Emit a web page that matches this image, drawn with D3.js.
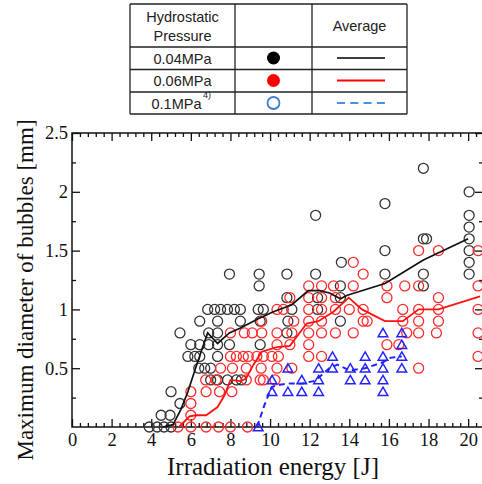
<!DOCTYPE html>
<html>
<head>
<meta charset="utf-8">
<script src="https://cdn.jsdelivr.net/npm/d3@7"></script>
<style>
  body { margin: 0; background: #fff; }
  svg { display: block; }
  .tick text { font-family: "Liberation Serif", serif; font-size: 18.5px; fill: #111; }
  .axis path.domain { display: none; }
  .axis line { stroke: #111; stroke-width: 1.3; }
  .legend text { font-family: "Liberation Sans", Arial, sans-serif; font-size: 14.5px; fill: #222; }
</style>
</head>
<body>
<svg width="482" height="484"></svg>
<script>
// values: [energy J, max diameter mm]
const pts004 = [
  [3.9,0],[4.3,0],[4.65,0],[5.0,0],[4.5,0.1],[4.95,0.1],[5.0,0.3],[5.45,0.2],[5.45,0.8],
  [5.85,0.6],[6.0,0.7],[6.2,0.6],[6.45,0.9],[6.45,0.7],[6.45,0.6],[6.4,0.5],[6.7,0.5],
  [6.85,1.0],[6.9,0.8],[6.9,0.7],[7.0,0.5],[7.0,0.4],[7.2,1.0],[7.35,0.9],[7.35,0.8],
  [7.35,0.7],[7.35,0.6],[7.35,0.4],[7.5,1.0],[7.85,1.0],[7.85,0.4],[7.95,1.3],[7.95,0.7],
  [8.2,1.0],[8.3,0.4],[8.5,1.0],[8.5,0.9],[8.55,0.4],
  [9.45,1.3],[9.45,1.2],[9.4,1.0],[9.66,1.0],[9.5,0.9],[9.5,0.7],
  [10.85,1.3],[10.85,1.1],[10.9,0.9],[10.85,0.8],[11.1,1.0],
  [12.3,1.8],[12.3,1.3],[12.4,1.0],[12.4,1.1],
  [13.6,1.4],[13.55,1.2],[13.55,1.1],[13.55,0.9],
  [15.8,1.9],[15.8,1.5],[15.8,1.3],
  [17.74,2.2],[17.74,1.6],[17.9,1.6],[17.74,1.3],[17.74,1.2],
  [20.05,2.0],[20.05,1.8],[20.05,1.7],[20.05,1.6],[20.05,1.5],[20.05,1.4],[20.05,1.3]
];
const pts006 = [
  [5.35,0],[6.0,0],[6.77,0],[7.4,0],[8.0,0],[8.86,0],
  [6.0,0.1],[6.0,0.2],[6.0,0.3],[6.77,0.3],[7.45,0.3],[8.07,0.3],[6.75,0.4],[7.27,0.4],
  [7.5,0.5],[8.1,0.5],[8.8,0.5],[9.55,0.5],[10.35,0.5],[11.1,0.5],
  [8.8,0.4],[9.5,0.4],[9.66,0.4],[10.25,0.4],
  [8.0,0.6],[8.3,0.6],[8.65,0.6],[8.9,0.6],[9.33,0.6],[9.66,0.6],[10.09,0.6],[10.42,0.6],
  [11.95,0.6],[12.6,0.6],
  [10.35,0.7],[11.0,0.7],[11.95,0.7],[15.9,0.7],[16.5,0.7],
  [8.0,0.8],[8.7,0.8],[9.1,0.8],[9.58,0.8],[10.35,0.8],[11.1,0.8],[11.95,0.8],[12.6,0.8],
  [13.3,0.8],[14.2,0.8],[16.9,0.8],[17.5,0.8],[18.4,0.8],
  [9.58,0.9],[11.2,0.9],[11.95,0.9],[12.6,0.9],[14.7,0.9],[14.9,0.9],[16.7,0.9],[17.5,0.9],[18.5,0.9],
  [10.35,1.0],[10.67,1.0],[11.95,1.0],[12.6,1.0],[13.3,1.0],[14.0,1.0],[14.7,1.0],
  [16.7,1.0],[17.5,1.0],[18.5,1.0],
  [11.0,1.1],[11.95,1.1],[12.6,1.1],[13.3,1.1],[15.9,1.1],[18.5,1.1],
  [11.95,1.2],[12.6,1.2],[13.2,1.2],[14.2,1.2],[15.9,1.2],[16.8,1.2],[17.5,1.2],
  [14.7,1.3],[14.2,1.4],[17.5,1.5],[18.5,1.5],[17.5,0.5],
  [20.5,1.5],[20.5,1.2],[20.5,1.0],[20.5,0.8],[20.5,0.6]
];
const pts01 = [
  [9.4,0],[10.1,0.4],[10.1,0.3],[10.9,0.5],[10.9,0.3],[11.6,0.4],[11.6,0.3],
  [12.45,0.5],[12.45,0.4],[12.45,0.3],[13.15,0.6],[13.15,0.5],[14.05,0.5],[14.05,0.4],
  [14.8,0.6],[14.8,0.5],[14.8,0.4],[15.7,0.8],[15.7,0.6],[15.7,0.5],[15.7,0.4],[15.7,0.3],
  [16.65,0.8],[16.65,0.7],[16.65,0.6],[16.65,0.5]
];
const avg004 = [
  [4.6,0],[5.1,0.02],[5.5,0.15],[5.85,0.3],[6.2,0.48],[6.6,0.68],[6.85,0.8],[7.35,0.71],
  [7.94,0.8],[8.48,0.84],[9.4,0.92],[10.17,0.98],[11.1,1.04],[11.93,1.16],[12.5,1.16],
  [13.0,1.14],[13.55,1.09],[13.9,1.12],[15.8,1.22],[17.74,1.42],[20,1.6]
];
const avg006 = [
  [5.4,0],[5.93,0.09],[6.27,0.1],[6.77,0.1],[7.35,0.17],[7.7,0.27],[8.0,0.4],[8.5,0.39],
  [8.78,0.41],[9.16,0.53],[9.58,0.64],[10.34,0.68],[11.0,0.69],[11.85,0.88],[12.44,0.9],
  [13.2,0.98],[13.97,1.1],[14.64,1.0],[15.8,0.9],[16.7,0.9],[17.5,1.0],[18.5,1.0],[20.6,1.11]
];
const avg01 = [
  [9.35,0],[9.7,0.18],[10.08,0.34],[10.5,0.36],[11.0,0.37],[11.6,0.37],[12.2,0.39],
  [12.45,0.42],[13.0,0.5],[13.4,0.53],[14.04,0.48],[14.8,0.5],[15.7,0.55],[16.1,0.59],[16.65,0.6]
];
const xTicks = [0, 2, 4, 6, 8, 10, 12, 14, 16, 18, 20];
const yTicks = [0.5, 1, 1.5, 2, 2.5];
const pressures = ['0.04MPa', '0.06MPa', '0.1MPa'];

const svg = d3.select('svg');

const x = d3.scaleLinear().domain([0, 20.75]).range([72, 483]);
const y = d3.scaleLinear().domain([0, 2.5]).range([427, 133]);
const xMinor = d3.range(0, 20.8, 0.4).filter(v => Math.abs(v / 2 - Math.round(v / 2)) > 0.01);
const yMinor = d3.range(0.25, 2.5, 0.5);

// frame
svg.append('rect')
  .attr('x', x(0)).attr('y', y(2.5))
  .attr('width', x(20.75) - x(0)).attr('height', y(0) - y(2.5))
  .attr('fill', 'none').attr('stroke', '#111').attr('stroke-width', 1.5);

// axes, ticks pointing inward
svg.append('g').attr('class', 'axis')
  .attr('transform', `translate(0,${y(0)})`)
  .call(d3.axisBottom(x).tickValues(xTicks).tickSize(-8).tickPadding(6));
svg.append('g').attr('class', 'axis')
  .attr('transform', `translate(0,${y(0)})`)
  .call(d3.axisBottom(x).tickValues(xMinor).tickSize(-4).tickFormat(''));
svg.append('g').attr('class', 'axis')
  .attr('transform', `translate(0,${y(2.5)})`)
  .call(d3.axisTop(x).tickValues(xTicks).tickSize(-8).tickFormat(''));
svg.append('g').attr('class', 'axis')
  .attr('transform', `translate(0,${y(2.5)})`)
  .call(d3.axisTop(x).tickValues(xMinor).tickSize(-4).tickFormat(''));

svg.append('g').attr('class', 'axis')
  .attr('transform', `translate(${x(0)},0)`)
  .call(d3.axisLeft(y).tickValues(yTicks).tickSize(-8).tickPadding(4).tickFormat(d3.format('')));
svg.append('g').attr('class', 'axis')
  .attr('transform', `translate(${x(0)},0)`)
  .call(d3.axisLeft(y).tickValues(yMinor).tickSize(-4).tickFormat(''));
svg.append('g').attr('class', 'axis')
  .attr('transform', `translate(${x(20.75)},0)`)
  .call(d3.axisRight(y).tickValues(yTicks).tickSize(-8).tickFormat(''));
svg.append('g').attr('class', 'axis')
  .attr('transform', `translate(${x(20.75)},0)`)
  .call(d3.axisRight(y).tickValues(yMinor).tickSize(-4).tickFormat(''));

// axis titles
svg.append('text')
  .attr('x', 273).attr('y', 475)
  .attr('text-anchor', 'middle')
  .style('font-family', '"Liberation Serif", serif').style('font-size', '25px').style('fill', '#111')
  .text('Irradiation energy [J]');
svg.append('text')
  .attr('transform', 'translate(33,290) rotate(-90)')
  .attr('text-anchor', 'middle')
  .style('font-family', '"Liberation Serif", serif').style('font-size', '23px').style('fill', '#111')
  .text('Maximum diameter of bubbles [mm]');

// scatter
const plot = svg.append('g');
plot.selectAll('circle.b').data(pts004).enter().append('circle')
  .attr('class', 'b')
  .attr('cx', d => x(d[0])).attr('cy', d => y(d[1])).attr('r', 5)
  .attr('fill', 'none').attr('stroke', '#333').attr('stroke-width', 1.3);
plot.selectAll('circle.r').data(pts006).enter().append('circle')
  .attr('class', 'r')
  .attr('cx', d => x(d[0])).attr('cy', d => y(d[1])).attr('r', 5)
  .attr('fill', 'none').attr('stroke', '#ff2a2a').attr('stroke-width', 1.3);
const tri = d3.symbol().type(d3.symbolTriangle).size(40);
plot.selectAll('path.t').data(pts01).enter().append('path')
  .attr('class', 't')
  .attr('d', tri)
  .attr('transform', d => `translate(${x(d[0])},${y(d[1]) + 1})`)
  .attr('fill', 'none').attr('stroke', '#2222ff').attr('stroke-width', 1.5);

// averages
const line = d3.line().x(d => x(d[0])).y(d => y(d[1]));
plot.append('path').datum(avg004).attr('d', line)
  .attr('fill', 'none').attr('stroke', '#111').attr('stroke-width', 1.7);
plot.append('path').datum(avg006).attr('d', line)
  .attr('fill', 'none').attr('stroke', '#ff1010').attr('stroke-width', 1.8);
plot.append('path').datum(avg01).attr('d', line)
  .attr('fill', 'none').attr('stroke', '#2222ff').attr('stroke-width', 2)
  .attr('stroke-dasharray', '6,4');

// legend table
const lg = svg.append('g').attr('class', 'legend');
const cols = [130, 235, 312, 407];
const rows = [4, 47, 69.5, 92, 114];
cols.forEach(c => lg.append('line').attr('x1', c).attr('x2', c).attr('y1', rows[0]).attr('y2', rows[4])
  .attr('stroke', '#222').attr('stroke-width', 1.3));
rows.forEach(r => lg.append('line').attr('x1', cols[0]).attr('x2', cols[3]).attr('y1', r).attr('y2', r)
  .attr('stroke', '#222').attr('stroke-width', 1.3));
const c1 = (cols[0] + cols[1]) / 2, c2 = (cols[1] + cols[2]) / 2, c3 = (cols[2] + cols[3]) / 2;
lg.append('text').attr('x', c1).attr('y', 22).attr('text-anchor', 'middle').text('Hydrostatic');
lg.append('text').attr('x', c1).attr('y', 41).attr('text-anchor', 'middle').text('Pressure');
lg.append('text').attr('x', c3).attr('y', 31).attr('text-anchor', 'middle').text('Average');
const rowMid = [58, 80.5, 103];
pressures.forEach((p, i) => {
  lg.append('text').attr('x', c1 - (i === 2 ? 6 : 0)).attr('y', rowMid[i] + 5.5).attr('text-anchor', 'middle').text(p);
});
lg.append('text').attr('x', 203).attr('y', 98)
  .style('font-size', '9px').style('fill', '#223').text('4)');
lg.append('circle').attr('cx', c2).attr('cy', rowMid[0]).attr('r', 6.5).attr('fill', '#000');
lg.append('circle').attr('cx', c2).attr('cy', rowMid[1]).attr('r', 6.5).attr('fill', '#ff0000');
lg.append('circle').attr('cx', c2).attr('cy', rowMid[2]).attr('r', 6).attr('fill', 'none')
  .attr('stroke', '#3f7fcf').attr('stroke-width', 1.8);
lg.append('line').attr('x1', 337).attr('x2', 385).attr('y1', rowMid[0]).attr('y2', rowMid[0])
  .attr('stroke', '#000').attr('stroke-width', 1.5);
lg.append('line').attr('x1', 337).attr('x2', 385).attr('y1', rowMid[1]).attr('y2', rowMid[1])
  .attr('stroke', '#ff0000').attr('stroke-width', 2);
lg.append('line').attr('x1', 337).attr('x2', 385).attr('y1', rowMid[2]).attr('y2', rowMid[2])
  .attr('stroke', '#4a90e2').attr('stroke-width', 2).attr('stroke-dasharray', '8,5.3');
</script>
</body>
</html>
